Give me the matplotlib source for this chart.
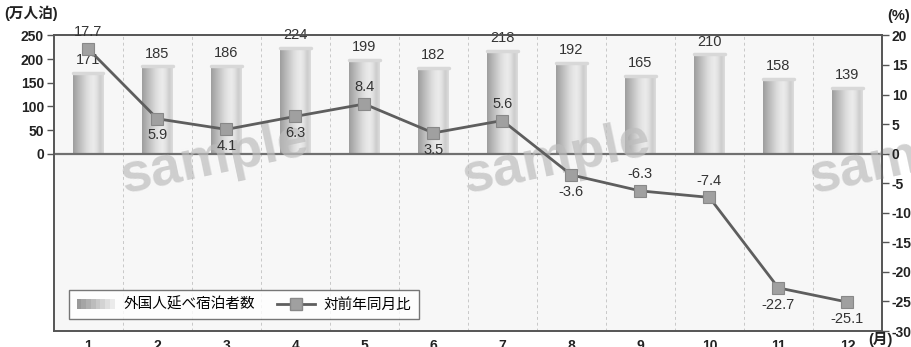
import numpy as np
import matplotlib.pyplot as plt
from matplotlib.lines import Line2D
from matplotlib.patches import Rectangle
from matplotlib.legend_handler import HandlerPatch

plt.rcParams['font.family'] = ['Liberation Sans', 'Noto Sans CJK JP', 'DejaVu Sans']
plt.rcParams['axes.unicode_minus'] = False

months = list(range(1, 13))
month_labels = [str(m) for m in months]
guests = [171, 185, 186, 224, 199, 182, 218, 192, 165, 210, 158, 139]   # 万人泊
yoy = [17.7, 5.9, 4.1, 6.3, 8.4, 3.5, 5.6, -3.6, -6.3, -7.4, -22.7, -25.1]  # %
# label above (+1) or below (-1) the marker
yoy_side = [1, -1, -1, -1, 1, -1, 1, -1, 1, 1, -1, -1]

bar_name = '外国人延べ宿泊者数'
line_name = '対前年同月比'

fig = plt.figure(figsize=(9.12, 3.47), dpi=100)
ax = fig.add_axes([0.059, 0.046, 0.908, 0.852])
ax.set_facecolor('#f7f7f7')
ax2 = ax.twinx()

# horizontal gradient used for the cylinder-style bars
gsteps = [0.62, 0.68, 0.74, 0.80, 0.86, 0.90, 0.92, 0.88, 0.80, 0.86]
grad = np.interp(np.linspace(0, 9, 60), np.arange(10), gsteps)[None, :]

bars = ax.bar(months, guests, width=0.44, color='none', edgecolor='none', zorder=2)
for b, v in zip(bars, guests):
    x0 = b.get_x()
    w = b.get_width()
    im = ax.imshow(grad, cmap='gray', vmin=0, vmax=1, aspect='auto',
                   extent=(x0, x0 + w, 0, v), zorder=2, interpolation='bilinear')
    im.set_clip_path(b)
    # light top cap
    ax.plot([x0, x0 + w], [v, v], color='#d8d8d8', lw=2.5, zorder=2.5,
            solid_capstyle='round')
    ax.annotate(str(v), (b.get_x() + w / 2, v), xytext=(0, 4),
                textcoords='offset points', ha='center', va='bottom',
                fontsize=10.5, color='#333333', zorder=5)

ax.set_xlim(0.5, 12.5)
ax.set_ylim(-375, 250)
ax.set_yticks([0, 50, 100, 150, 200, 250])
ax.set_xticks(months)
ax.set_xticklabels(month_labels)
for x in np.arange(1.5, 12.5, 1):
    ax.axvline(x, color='#c8c8c8', lw=0.7, ls=(0, (3, 3)), zorder=1)
ax.axhline(0, color='#707070', lw=1.6, zorder=3)

ax2.set_ylim(-30, 20)
ax2.set_yticks(range(-30, 21, 5))
ax2.plot(months, yoy, color='#5e5e5e', lw=2, zorder=4,
         marker='s', markersize=9, markerfacecolor='#a0a0a0',
         markeredgecolor='#888888', markeredgewidth=0.8)
for m, v, s in zip(months, yoy, yoy_side):
    ax2.annotate(f'{v}', (m, v), xytext=(0, 7 * s), textcoords='offset points',
                 ha='center', va='bottom' if s > 0 else 'top',
                 fontsize=10.5, color='#333333', zorder=6)

for a in (ax, ax2):
    for sp in a.spines.values():
        sp.set_color('#555555')
        sp.set_linewidth(1.2)
ax.tick_params(axis='y', length=5, width=1, color='#555555', pad=2,
               labelsize=10)
ax2.tick_params(axis='y', length=5, width=1, color='#555555', pad=2,
                labelsize=10)
ax.tick_params(axis='x', length=0, pad=6, labelsize=10)
for lab in ax.get_yticklabels() + ax2.get_yticklabels() + ax.get_xticklabels():
    lab.set_fontweight('bold')
    lab.set_color('#222222')
ax2.set_zorder(ax.get_zorder() + 1)
ax2.patch.set_visible(False)

fig.text(0.005, 0.962, '(万人泊)', fontsize=10.5, fontweight='bold', color='#222222',
         ha='left', va='center')
fig.text(0.998, 0.955, '(%)', fontsize=10.5, fontweight='bold', color='#222222',
         ha='right', va='center')
fig.text(0.952, 0.022, '(月)', fontsize=10.5, fontweight='bold', color='#222222',
         ha='left', va='center')

# watermark
for xw, yw in [(0.235, 0.54), (0.61, 0.54), (0.99, 0.54)]:
    fig.text(xw, yw, 'sample', fontsize=40, fontweight='bold', color='#bdbdbd',
             alpha=0.7, rotation=12, ha='center', va='center', zorder=0.5)


class GradHandler(HandlerPatch):
    def create_artists(self, legend, orig_handle, xdescent, ydescent,
                       width, height, fontsize, trans):
        arts = []
        n = 8
        for i in range(n):
            c = 0.6 + 0.32 * i / (n - 1)
            r = Rectangle((xdescent + i * width / n, ydescent), width / n + 0.3,
                          height, facecolor=(c, c, c), edgecolor='none',
                          transform=trans)
            arts.append(r)
        return arts


h_bar = Rectangle((0, 0), 1, 1)
h_line = Line2D([], [], color='#5e5e5e', lw=2, marker='s', markersize=9,
                markerfacecolor='#a0a0a0', markeredgecolor='#888888')
leg = ax.legend([h_bar, h_line], [bar_name, line_name], loc='lower left',
                bbox_to_anchor=(0.01, 0.015), ncol=2, fontsize=10.5,
                frameon=True, fancybox=False, edgecolor='#555555',
                handlelength=2.6, handletextpad=0.6, columnspacing=1.5,
                borderpad=0.5, handler_map={Rectangle: GradHandler()})
leg.get_frame().set_linewidth(1.0)
leg.set_zorder(10)

fig.savefig('out.png', dpi=100)
